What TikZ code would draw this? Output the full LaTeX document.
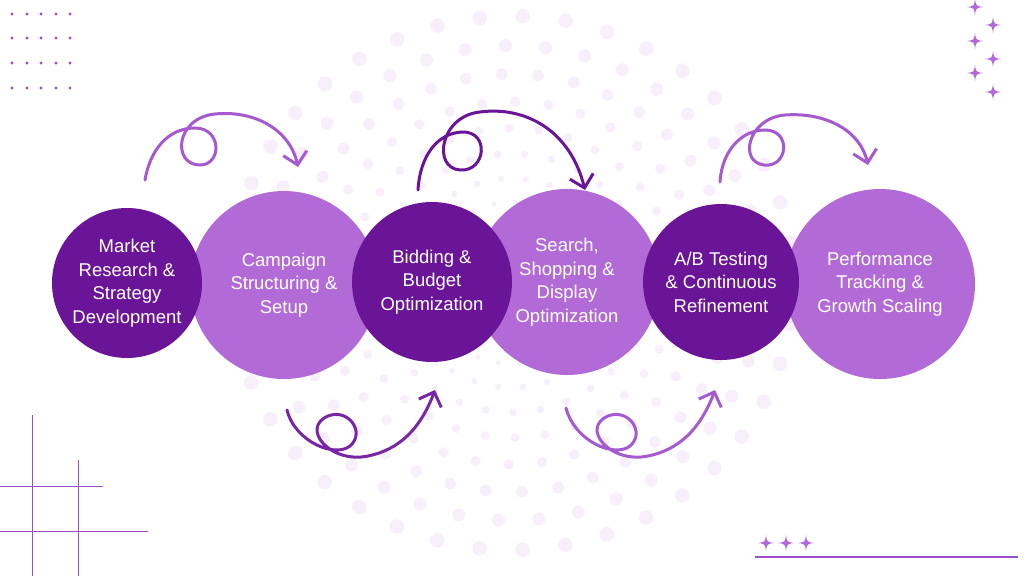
\documentclass[tikz,border=0pt]{standalone}
\usepackage{fontspec}
\setmainfont{Liberation Sans}
\usetikzlibrary{arrows.meta}
\definecolor{dk}{HTML}{6A1597}
\definecolor{lt}{HTML}{B26BD6}
\definecolor{ar}{HTML}{A65ACF}
\definecolor{bgd}{HTML}{F7EFFA}
\definecolor{ln}{HTML}{9B50C4}
\begin{document}
\begin{tikzpicture}[x=1pt,y=-1pt,
  txt/.style={text=white,align=center,font=\fontsize{18.5}{23.5}\selectfont},
  dcirc/.style={circle,fill=dk,draw=none,txt,inner sep=0pt},
  lcirc/.style={circle,fill=lt,draw=none,txt,inner sep=0pt},
  swirl/.style={line width=3pt,line cap=round,-{Straight Barb[length=12pt,width=24pt,line width=3pt]}},
  star/.style={fill=lt,draw=none}]
\useasboundingbox (0,0) rectangle (1024,576);
\fill[white] (0,0) rectangle (1024,576);
% background dot rings
\foreach \r in {40,62,85,110,136,163,191,220,250,281} {
  \pgfmathsetmacro{\n}{int(2*pi*\r/(0.11*\r+12))}
  \pgfmathsetmacro{\d}{0.024*\r+0.5}
  \foreach \i in {1,...,\n} {
    \fill[bgd] ({512+\r*cos(360*\i/\n+\r)},{283+0.95*\r*sin(360*\i/\n+\r)}) circle (\d);
  }
}
% top-left dot grid
\foreach \cx in {12,27,41,56,70} \foreach \cy in {14,38,63,88}
  \fill[ln] (\cx,\cy) circle (1.7);
% stars
\foreach \sx/\sy in {975/7,993/25,975/41,993/59,975/73,993/92,766/543,786/543,806/543}
  \fill[star] (\sx,\sy-8) .. controls (\sx+1,\sy-1) .. (\sx+8,\sy) .. controls (\sx+1,\sy+1) .. (\sx,\sy+8) .. controls (\sx-1,\sy+1) .. (\sx-8,\sy) .. controls (\sx-1,\sy-1) .. cycle;
% bottom-left lines
\draw[ln,line width=1pt] (32,415) -- (32,576) (78,460) -- (78,576) (0,486) -- (103,486) (0,531) -- (148,531);
\draw[ln,line width=1.5pt] (755,557) -- (1018,557);
% circles
\node[lcirc,minimum size=188pt] (c2) at (284,285) {Campaign\\Structuring \&\\Setup};
\node[lcirc,minimum size=186pt] (c4) at (567,282) {Search,\\Shopping \&\\Display\\Optimization};
\node[lcirc,minimum size=190pt] (c6) at (880,284) {Performance\\Tracking \&\\Growth Scaling};
\node[dcirc,minimum size=150pt] (c1) at (127,283) {Market\\Research \&\\Strategy\\Development};
\node[dcirc,minimum size=160pt] (c3) at (432,282) {Bidding \&\\Budget\\Optimization};
\node[dcirc,minimum size=156pt] (c5) at (721,282) {A/B Testing\\\& Continuous\\Refinement};
% swirl arrows
\draw[swirl,ar] (145,180) .. controls (150,150) and (168,128) .. (195,128)
  .. controls (222,128) and (222,165) .. (200,165)
  .. controls (172,165) and (175,118) .. (215,114)
  .. controls (255,110) and (290,130) .. (298,167);
\draw[swirl,dk] (418,190) .. controls (420,155) and (438,133) .. (462,132)
  .. controls (490,131) and (486,172) .. (460,170)
  .. controls (432,168) and (440,116) .. (480,112)
  .. controls (525,106) and (570,130) .. (585,190);
\draw[swirl,ar] (720,182) .. controls (722,150) and (742,130) .. (765,130)
  .. controls (792,130) and (788,168) .. (764,165)
  .. controls (738,162) and (748,118) .. (785,115)
  .. controls (825,112) and (860,130) .. (868,165);
\draw[swirl,dk!80!lt] (287,410) .. controls (295,442) and (335,458) .. (350,446)
  .. controls (366,432) and (348,408) .. (328,416)
  .. controls (300,428) and (330,464) .. (368,456)
  .. controls (398,450) and (420,430) .. (435,390);
\draw[swirl,ar] (566,408) .. controls (575,442) and (615,458) .. (630,446)
  .. controls (646,432) and (628,408) .. (608,416)
  .. controls (580,428) and (610,464) .. (648,456)
  .. controls (678,450) and (700,430) .. (715,390);
\end{tikzpicture}
\end{document}
